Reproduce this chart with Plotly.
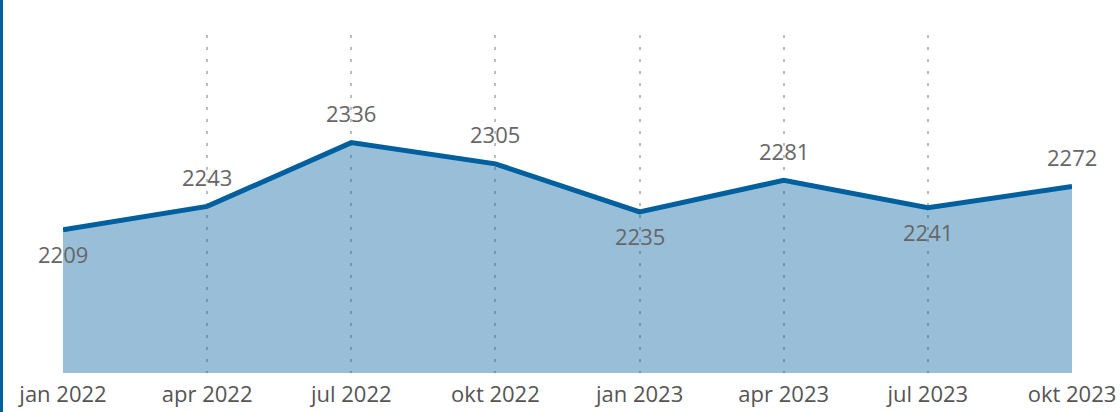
import plotly.graph_objects as go

categories = ["jan 2022", "apr 2022", "jul 2022", "okt 2022",
              "jan 2023", "apr 2023", "jul 2023", "okt 2023"]
values = [2209, 2243, 2336, 2305, 2235, 2281, 2241, 2272]
label_side = ["below", "above", "above", "above", "below", "above", "below", "above"]

W, H = 1120, 412
ml, mr, mt, mb = 63, 48, 35, 39
FONT = "Open Sans, Noto Sans, sans-serif"

fig = go.Figure()
fig.add_trace(go.Scatter(
    x=categories, y=values, mode="lines",
    line=dict(color="#005f9e", width=5),
    fill="tozeroy", fillcolor="rgba(0,95,158,0.4)",
    hoverinfo="skip", showlegend=False,
))

for c, v, s in zip(categories, values, label_side):
    fig.add_annotation(
        x=c, y=v, text=str(v), showarrow=False,
        yshift=29.5 if s == "above" else -24,
        font=dict(family=FONT, size=22, color="#666666"),
    )

fig.add_shape(type="line", xref="paper", yref="paper",
              x0=-(ml - 1.5) / (W - ml - mr), x1=-(ml - 1.5) / (W - ml - mr),
              y0=-mb / (H - mt - mb), y1=1 + mt / (H - mt - mb),
              line=dict(color="#005f9e", width=3))

fig.update_layout(
    width=W, height=H,
    margin=dict(l=ml, r=mr, t=mt, b=mb, autoexpand=False),
    paper_bgcolor="white", plot_bgcolor="white",
    xaxis=dict(
        type="category", range=[0, len(categories) - 1], automargin=False,
        showgrid=True, gridcolor="#bdbdbd", gridwidth=2, griddash="3px,9px",
        zeroline=False, showline=False,
        ticks="outside", ticklen=2, tickcolor="rgba(0,0,0,0)",
        tickfont=dict(family=FONT, size=22, color="#555555"),
    ),
    yaxis=dict(
        range=[2000, 2493], showgrid=False, zeroline=False, automargin=False,
        showticklabels=False, showline=False,
    ),
)

fig.write_html("out.html", config={"displayModeBar": False},
               post_script="document.body.style.margin='0';document.body.style.overflow='hidden';")
